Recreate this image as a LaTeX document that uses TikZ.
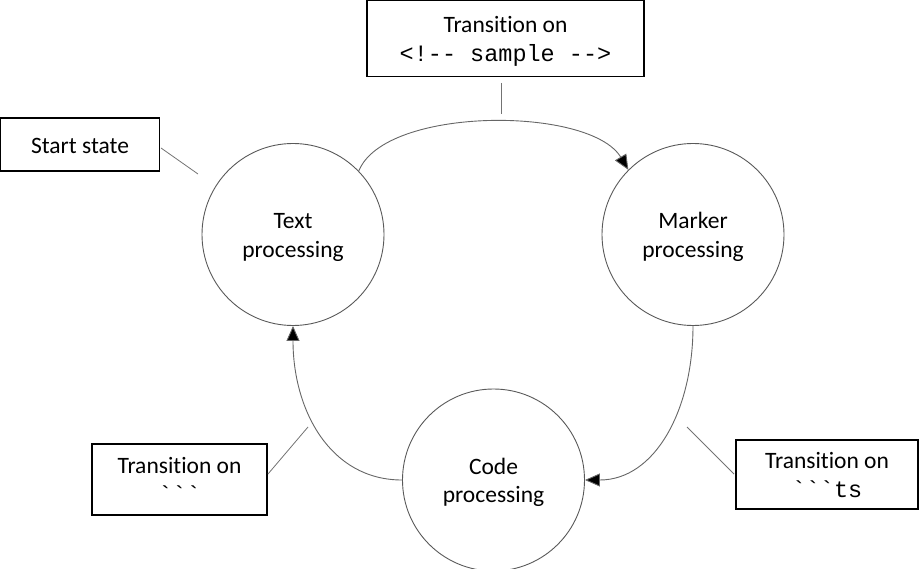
\documentclass[tikz,border=0pt]{standalone}
\usepackage{fontspec}
\setmainfont{Carlito}[Ligatures={NoCommon}]
\setmonofont{Liberation Mono}
\usetikzlibrary{arrows.meta}
\newcommand{\twolines}[2]{\raisebox{-3pt}[\height][\depth]{\begin{tabular}{@{}c@{}}#1\\#2\end{tabular}}}
\begin{document}
\begin{tikzpicture}[x=1pt,y=-1pt,
  every node/.style={font=\fontsize{23.5}{28.5}\selectfont},
  state/.style={circle, draw=black!65, line width=0.9pt, minimum size=182pt, inner sep=0pt, align=center},
  notebox/.style={draw=black, line width=1.2pt, align=center, inner sep=0pt},
  flow/.style={draw=black!60, line width=0.9pt, -{Triangle[length=15pt,width=13pt,fill=black]}},
  noteline/.style={draw=black!55, line width=0.8pt}]
\useasboundingbox (0,0) rectangle (919,569);

\node[state] (T) at (293,234.5) {\twolines{Text}{processing}};
\node[state] (M) at (693,234.5) {\twolines{Marker}{processing}};
\node[state] (C) at (493.5,480) {\twolines{Code}{processing}};

\node[notebox, minimum width=159pt, minimum height=53pt] (S) at (80,144.5) {\raisebox{-1.5pt}[\height][\depth]{Start state}};
\node[notebox, minimum width=277pt, minimum height=76pt] (B1) at (505.5,38.5) {\twolines{Transition on}{\texttt{<!-- sample -->}}};
\node[notebox, minimum width=175pt, minimum height=71pt] (B2) at (179.5,479.5) {\twolines{Transition on}{\texttt{```}}};
\node[notebox, minimum width=182pt, minimum height=69pt] (B3) at (827,474.5) {\twolines{Transition on}{\texttt{```ts}}};

\draw[flow] (T.44) .. controls (385,106) and (590,106) .. (M.135);
\draw[flow] (C.180) .. controls (330,480) and (293,410) .. (T.270);
\draw[flow] (M.270) .. controls (693,410) and (655,480) .. (C.0);

\coordinate (s1) at (161,148); \coordinate (s2) at (198,174);
\coordinate (t1) at (501,83);  \coordinate (t2) at (501,114);
\coordinate (l1) at (268,474); \coordinate (l2) at (308,427);
\coordinate (r1) at (687,427); \coordinate (r2) at (734,474);
\draw[noteline] (s1) -- (s2);
\draw[noteline] (t1) -- (t2);
\draw[noteline] (l1) -- (l2);
\draw[noteline] (r1) -- (r2);
\end{tikzpicture}
\end{document}
